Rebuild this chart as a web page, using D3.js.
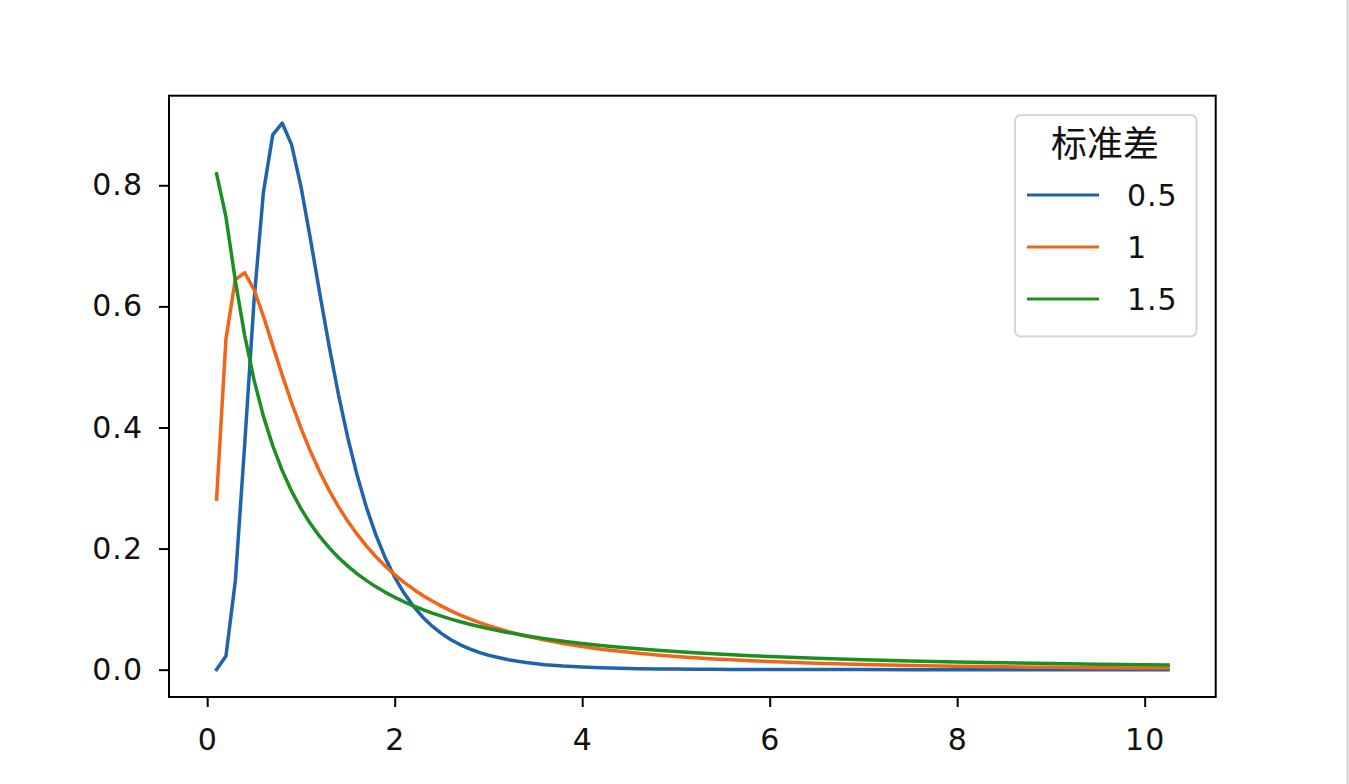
<html>
<head>
  <meta charset="utf-8">
  <script src="https://d3js.org/d3.v7.min.js"></script>
  <style>
    body { margin: 0; background: white; }
    .axis text {
      font-family: "DejaVu Sans", sans-serif;
      font-size: 30px;
      letter-spacing: 1px;
      fill: #111;
    }
    .axis path, .axis line { stroke: black; stroke-width: 2px; }
    .spine { fill: none; stroke: black; stroke-width: 2px; }
    .curve { fill: none; stroke-width: 3.5px; stroke-linejoin: round; stroke-linecap: square; }
    .legend-title { font-family: "Noto Sans CJK SC", sans-serif; font-size: 36px; fill: #111; }
    .legend-label { font-family: "DejaVu Sans", sans-serif; font-size: 30px; letter-spacing: 1px; fill: #111; }
  </style>
</head>
<body>
  <svg id="chart" width="1349" height="784"></svg>
  <script>
    // x positions and lognormal density (mu = 0)
    const xValues = [0.1, 0.2, 0.3, 0.4, 0.5, 0.6, 0.7, 0.8, 0.9, 1.0,
                     1.1, 1.2, 1.3, 1.4, 1.5, 1.6, 1.7, 1.8, 1.9, 2.0,
                     2.1, 2.2, 2.3, 2.4, 2.5, 2.6, 2.7, 2.8, 2.9, 3.0,
                     3.2, 3.4, 3.6, 3.8, 4.0, 4.2, 4.4, 4.6, 4.8, 5.0,
                     5.2, 5.4, 5.6, 5.8, 6.0,
                     6.5, 7.0, 7.5, 8.0, 8.5, 9.0, 9.5, 10.0,
                     10.25];
    const sd05 = [0.0002, 0.0224, 0.1465, 0.3721, 0.6105, 0.7891, 0.8838, 0.9028, 0.8671, 0.7979,
                  0.7123, 0.6221, 0.5348, 0.4544, 0.3829, 0.3206, 0.2672, 0.2221, 0.1842, 0.1526,
                  0.1264, 0.1046, 0.0866, 0.0718, 0.0595, 0.0494, 0.0411, 0.0342, 0.0285, 0.0238,
                  0.0167, 0.0117, 0.0083, 0.0059, 0.0043, 0.0031, 0.0023, 0.0017, 0.0012, 0.0009,
                  0.0007, 0.0005, 0.0004, 0.0003, 0.0002,
                  0.0001, 0.0001, 0.0000, 0.0000, 0.0000, 0.0000, 0.0000, 0.0000,
                  0.0000];
    const sd1 = [0.2816, 0.5463, 0.6442, 0.6555, 0.6275, 0.5836, 0.5348, 0.4864, 0.4408, 0.3989,
                 0.3610, 0.3270, 0.2965, 0.2693, 0.2450, 0.2233, 0.2039, 0.1865, 0.1709, 0.1569,
                 0.1443, 0.1329, 0.1226, 0.1133, 0.1049, 0.0972, 0.0902, 0.0839, 0.0781, 0.0727,
                 0.0634, 0.0555, 0.0488, 0.0431, 0.0382, 0.0339, 0.0303, 0.0271, 0.0243, 0.0219,
                 0.0197, 0.0178, 0.0162, 0.0147, 0.0134,
                 0.0106, 0.0086, 0.0070, 0.0057, 0.0048, 0.0040, 0.0033, 0.0028,
                 0.0026];
    const sd15 = [0.8187, 0.7478, 0.6424, 0.5517, 0.4781, 0.4183, 0.3694, 0.3288, 0.2948, 0.2660,
                  0.2413, 0.2200, 0.2015, 0.1853, 0.1710, 0.1583, 0.1470, 0.1368, 0.1277, 0.1195,
                  0.1121, 0.1053, 0.0991, 0.0935, 0.0883, 0.0835, 0.0791, 0.0751, 0.0713, 0.0678,
                  0.0615, 0.0561, 0.0513, 0.0471, 0.0434, 0.0401, 0.0371, 0.0345, 0.0321, 0.0299,
                  0.0280, 0.0262, 0.0246, 0.0231, 0.0217,
                  0.0188, 0.0164, 0.0144, 0.0127, 0.0113, 0.0101, 0.0091, 0.0082,
                  0.0078];
    const seriesNames = ["0.5", "1", "1.5"];
    const seriesColors = ["#1f63ad", "#f26518", "#1b8f1f"];
    const legendTitle = "标准差";
    const xTicks = [0, 2, 4, 6, 8, 10];
    const yTicks = [0, 0.2, 0.4, 0.6, 0.8];

    const svg = d3.select("#chart");
    const box = { left: 169, right: 1215.7, top: 95.7, bottom: 697 };

    const series = [sd05, sd1, sd15].map((ys, i) => ({
      name: seriesNames[i],
      color: seriesColors[i],
      points: xValues.map((x, j) => ({ x: x, y: ys[j] }))
    }));

    // matplotlib style auto limits: 5% padding around the data
    const xExt = d3.extent(xValues);
    const yExt = d3.extent([].concat(sd05, sd1, sd15));
    const xPad = (xExt[1] - xExt[0]) * 0.05;
    const yPad = (yExt[1] - yExt[0]) * 0.05;

    const xScale = d3.scaleLinear()
      .domain([xExt[0] - xPad, xExt[1] + xPad])
      .range([box.left, box.right]);
    const yScale = d3.scaleLinear()
      .domain([yExt[0] - yPad, yExt[1] + yPad])
      .range([box.bottom, box.top]);

    // faint screenshot edge on the right
    svg.append("line")
      .attr("x1", 1347.5).attr("x2", 1347.5)
      .attr("y1", 0).attr("y2", 784)
      .attr("stroke", "#d4d4d4").attr("stroke-width", 2);

    // curves
    const line = d3.line().x(d => xScale(d.x)).y(d => yScale(d.y));
    svg.selectAll("path.curve").data(series)
      .join("path")
      .attr("class", "curve")
      .attr("stroke", d => d.color)
      .attr("d", d => line(d.points));

    // axes
    const bottomAxis = d3.axisBottom(xScale).tickValues(xTicks)
      .tickSize(10).tickSizeOuter(0).tickPadding(22).tickFormat(d3.format("d"));
    svg.append("g").attr("class", "axis")
      .attr("transform", `translate(0,${box.bottom})`)
      .call(bottomAxis)
      .call(g => g.select(".domain").remove());

    const leftAxis = d3.axisLeft(yScale).tickValues(yTicks)
      .tickSize(10).tickSizeOuter(0).tickPadding(16).tickFormat(d3.format(".1f"));
    svg.append("g").attr("class", "axis")
      .attr("transform", `translate(${box.left},0)`)
      .call(leftAxis)
      .call(g => g.select(".domain").remove());

    svg.append("rect")
      .attr("class", "spine")
      .attr("x", box.left).attr("y", box.top)
      .attr("width", box.right - box.left)
      .attr("height", box.bottom - box.top);

    // legend
    const legend = svg.append("g").attr("transform", "translate(1015,115)");
    legend.append("rect")
      .attr("x", 0).attr("y", 0)
      .attr("width", 181.5).attr("height", 221.5)
      .attr("rx", 6).attr("ry", 6)
      .attr("fill", "white").attr("fill-opacity", 0.8)
      .attr("stroke", "#d6d6d6").attr("stroke-width", 2);

    legend.append("text")
      .attr("class", "legend-title")
      .attr("x", 90).attr("y", 42)
      .attr("text-anchor", "middle")
      .text(legendTitle);

    const entry = legend.selectAll("g.entry").data(series)
      .join("g")
      .attr("class", "entry")
      .attr("transform", (d, i) => `translate(0,${80 + i * 52})`);
    entry.append("line")
      .attr("x1", 12).attr("x2", 84)
      .attr("y1", 0).attr("y2", 0)
      .attr("stroke", d => d.color)
      .attr("stroke-width", 3);
    entry.append("text")
      .attr("class", "legend-label")
      .attr("x", 112).attr("y", 11)
      .text(d => d.name);
  </script>
</body>
</html>
